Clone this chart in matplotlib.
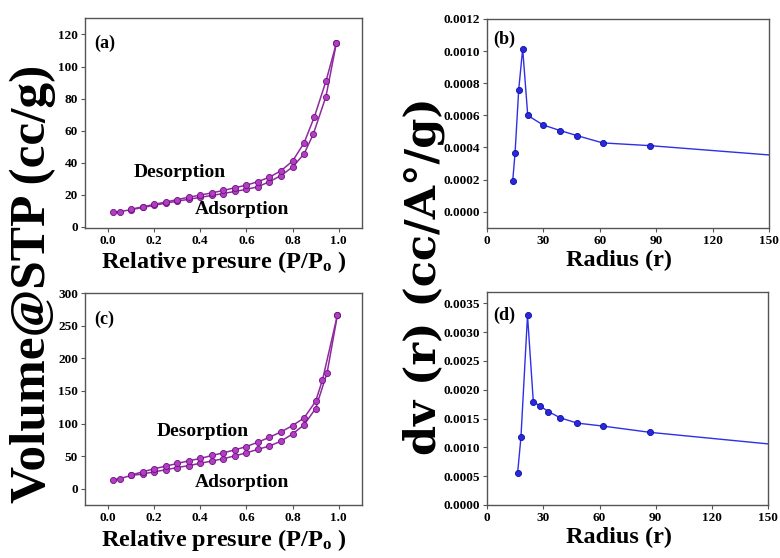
import matplotlib
matplotlib.use("Agg")
import matplotlib.pyplot as plt

plt.rcParams['font.family'] = ['Liberation Serif', 'DejaVu Serif']
plt.rcParams['font.weight'] = 'bold'
plt.rcParams['mathtext.fontset'] = 'custom'
plt.rcParams['mathtext.rm'] = 'Liberation Serif:bold'
plt.rcParams['mathtext.it'] = 'Liberation Serif:bold'
plt.rcParams['mathtext.bf'] = 'Liberation Serif:bold'

# --- Isotherm (a) ---
a_ads_p = [0.02, 0.05, 0.10, 0.15, 0.20, 0.25, 0.30, 0.35, 0.40, 0.45, 0.50,
           0.55, 0.60, 0.65, 0.70, 0.75, 0.80, 0.85, 0.89, 0.945, 0.99]
a_ads_v = [9.0, 9.5, 10.7, 12.1, 13.4, 14.8, 16.0, 17.2, 18.4, 19.6, 20.8,
           22.1, 23.4, 25.0, 28.2, 32.0, 37.3, 45.5, 57.8, 81.3, 114.4]
a_des_p = [0.99, 0.945, 0.895, 0.85, 0.80, 0.75, 0.70, 0.65, 0.60, 0.55, 0.50,
           0.45, 0.40, 0.35, 0.30, 0.25, 0.20, 0.15, 0.10]
a_des_v = [114.4, 90.8, 68.7, 52.3, 41.0, 35.0, 31.0, 28.2, 26.0, 24.4, 22.7,
           21.2, 19.8, 18.5, 17.0, 15.5, 14.0, 12.5, 11.0]

# --- Isotherm (c) ---
c_ads_p = [0.02, 0.05, 0.10, 0.15, 0.20, 0.25, 0.30, 0.35, 0.40, 0.45, 0.50,
           0.55, 0.60, 0.65, 0.70, 0.75, 0.80, 0.85, 0.90, 0.95, 0.995]
c_ads_v = [13.7, 15.3, 20.4, 22.5, 26.0, 29.0, 32.5, 35.5, 39.0, 42.5, 46.0,
           50.5, 55.0, 60.5, 65.5, 73.0, 84.0, 98.0, 123.0, 178.0, 267.0]
c_des_p = [0.995, 0.93, 0.90, 0.85, 0.80, 0.75, 0.70, 0.65, 0.60, 0.55, 0.50,
           0.45, 0.40, 0.35, 0.30, 0.25, 0.20, 0.15, 0.10]
c_des_v = [267.0, 167.0, 134.0, 108.6, 96.9, 87.2, 79.0, 71.4, 64.7, 59.6, 55.1,
           51.0, 46.4, 42.8, 38.7, 34.6, 30.6, 25.9, 21.0]

# --- Pore size distribution (b) ---
b_r = [13.8, 15.05, 17.0, 19.1, 21.8, 29.9, 39.0, 47.8, 61.6, 86.6, 150.0]
b_dv = [0.00019, 0.000365, 0.00076, 0.001014, 0.000599, 0.00054, 0.000505,
        0.000474, 0.000428, 0.000411, 0.000353]

# --- Pore size distribution (d) ---
d_r = [16.2, 18.0, 21.5, 24.6, 28.1, 32.7, 39.1, 48.2, 61.6, 87.0, 150.0]
d_dv = [0.000548, 0.00118, 0.00329, 0.00179, 0.00172, 0.00162, 0.00151,
        0.00142, 0.00137, 0.00126, 0.00106]

purple_line = '#8E2A9E'
purple_face = '#B13EC2'
purple_edge = '#6E0F80'
blue_line = '#2F2FE6'
blue_face = '#2828E0'
blue_edge = '#10109A'

fig = plt.figure(figsize=(7.8, 5.58), dpi=100)
ax_a = fig.add_axes([0.109, 0.592, 0.3547, 0.375])
ax_b = fig.add_axes([0.624, 0.592, 0.362, 0.374])
ax_c = fig.add_axes([0.109, 0.095, 0.3547, 0.3794])
ax_d = fig.add_axes([0.6247, 0.095, 0.360, 0.3822])

tick_fs = 9.5
for ax in (ax_a, ax_b, ax_c, ax_d):
    for s in ax.spines.values():
        s.set_color('#555555')
        s.set_linewidth(1.0)
    ax.tick_params(direction='out', length=3, width=0.8, color='#555555',
                   labelsize=tick_fs, pad=2)

iso_kw = dict(color=purple_line, lw=1.1, marker='o', markersize=4.4,
              markerfacecolor=purple_face, markeredgecolor=purple_edge,
              markeredgewidth=0.6)
xlab_fs = 17.5

# (a)
ax_a.plot(a_ads_p, a_ads_v, **iso_kw)
ax_a.plot(a_des_p, a_des_v, **iso_kw)
ax_a.set_xlim(-0.1, 1.1)
ax_a.set_ylim(-0.5, 130)
ax_a.set_xticks([0.0, 0.2, 0.4, 0.6, 0.8, 1.0])
ax_a.set_xticklabels(['0.0', '0.2', '0.4', '0.6', '0.8', '1.0'])
ax_a.set_yticks([0, 20, 40, 60, 80, 100, 120])
ax_a.text(0.31, 34.2, 'Desorption', fontsize=14, fontweight='bold',
          ha='center', va='center')
ax_a.text(0.58, 10.6, 'Adsorption', fontsize=14, fontweight='bold',
          ha='center', va='center')
ax_a.text(0.034, 0.883, '(a)', transform=ax_a.transAxes, fontsize=13,
          fontweight='bold', ha='left', va='center')
ax_a.set_xlabel(r'Relative presure (P/P$_{\rm o}$ )', fontsize=xlab_fs,
                fontweight='bold', labelpad=2)

# (c)
ax_c.plot(c_ads_p, c_ads_v, **iso_kw)
ax_c.plot(c_des_p, c_des_v, **iso_kw)
ax_c.set_xlim(-0.1, 1.1)
ax_c.set_ylim(-25, 300)
ax_c.set_xticks([0.0, 0.2, 0.4, 0.6, 0.8, 1.0])
ax_c.set_xticklabels(['0.0', '0.2', '0.4', '0.6', '0.8', '1.0'])
ax_c.set_yticks([0, 50, 100, 150, 200, 250, 300])
ax_c.text(0.41, 88, 'Desorption', fontsize=14, fontweight='bold',
          ha='center', va='center')
ax_c.text(0.58, 9, 'Adsorption', fontsize=14, fontweight='bold',
          ha='center', va='center')
ax_c.text(0.034, 0.877, '(c)', transform=ax_c.transAxes, fontsize=13,
          fontweight='bold', ha='left', va='center')
ax_c.set_xlabel(r'Relative presure (P/P$_{\rm o}$ )', fontsize=xlab_fs,
                fontweight='bold', labelpad=2)

psd_kw = dict(color=blue_line, lw=1.0, marker='o', markersize=4.4,
              markerfacecolor=blue_face, markeredgecolor=blue_edge,
              markeredgewidth=0.6)

# (b)
ax_b.plot(b_r, b_dv, markevery=list(range(len(b_r) - 1)), **psd_kw)
ax_b.set_xlim(0, 150)
ax_b.set_ylim(-0.0001, 0.0012)
ax_b.set_xticks([0, 30, 60, 90, 120, 150])
ax_b.set_yticks([0.0, 0.0002, 0.0004, 0.0006, 0.0008, 0.0010, 0.0012])
ax_b.set_yticklabels(['%.4f' % v for v in ax_b.get_yticks()])
ax_b.text(0.023, 0.90, '(b)', transform=ax_b.transAxes, fontsize=13,
          fontweight='bold', ha='left', va='center')
ax_b.set_xlabel('Radius (r)', fontsize=xlab_fs, fontweight='bold', labelpad=2)
ax_b.xaxis.label.set_x(0.469)

# (d)
ax_d.plot(d_r, d_dv, markevery=list(range(len(d_r) - 1)), **psd_kw)
ax_d.set_xlim(0, 150)
ax_d.set_ylim(0, 0.0037)
ax_d.set_xticks([0, 30, 60, 90, 120, 150])
ax_d.set_yticks([0.0, 0.0005, 0.0010, 0.0015, 0.0020, 0.0025, 0.0030, 0.0035])
ax_d.set_yticklabels(['%.4f' % v for v in ax_d.get_yticks()])
ax_d.text(0.023, 0.89, '(d)', transform=ax_d.transAxes, fontsize=13,
          fontweight='bold', ha='left', va='center')
ax_d.set_xlabel('Radius (r)', fontsize=xlab_fs, fontweight='bold', labelpad=2)
ax_d.xaxis.label.set_x(0.469)

for ax in (ax_a, ax_b, ax_c, ax_d):
    for lab in ax.get_xticklabels() + ax.get_yticklabels():
        lab.set_fontweight('bold')

# Shared y-axis titles
fig.text(33 / 780, 1 - 284 / 558, 'Volume@STP (cc/g)', rotation=90,
         fontsize=37, fontweight='bold', ha='center', va='center')
fig.text(424 / 780, 1 - 276 / 558, 'dv (r) (cc/A\u00b0/g)', rotation=90,
         fontsize=31, fontweight='bold', ha='center', va='center',
         family=['DejaVu Serif'])

fig.savefig('out.png', dpi=100)
